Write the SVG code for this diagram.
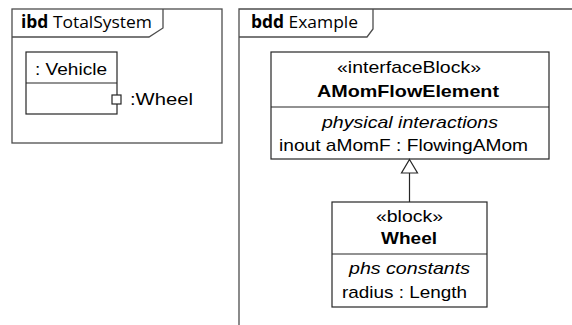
<svg xmlns="http://www.w3.org/2000/svg" width="572" height="325" viewBox="0 0 572 325">
<defs>
<style>
.frame{fill:none;stroke:#4d4d4d;stroke-width:1.3}
.box{fill:#fff;stroke:#262626;stroke-width:1.2}
.t{font-family:"Liberation Sans",Arial,sans-serif;font-size:17px;fill:#000}
.b{font-weight:bold}
.i{font-style:italic}
.ft{font-family:"Open Sans","Noto Sans",sans-serif;font-size:17px;fill:#000}
.conn{fill:none;stroke:#262626;stroke-width:1.2}
</style>
</defs>
<rect width="572" height="325" fill="#fff"/>
<g id="ibd-frame">
<rect class="frame" x="12" y="9" width="210" height="134"/>
<path class="frame" d="M12,37 H149 L163,28 V9"/>
<text class="ft" x="21" y="28" textLength="131" lengthAdjust="spacingAndGlyphs"><tspan font-weight="bold">ibd</tspan> TotalSystem</text>
</g>
<g id="vehicle">
<rect class="box" x="26" y="52" width="91" height="62"/>
<line class="box" x1="26" y1="83" x2="117" y2="83"/>
<text class="t" x="35" y="75" textLength="72" lengthAdjust="spacingAndGlyphs">: Vehicle</text>
</g>
<g id="wheel-port">
<rect class="box" x="112" y="95" width="9" height="9"/>
<text class="t" x="130" y="105" textLength="63" lengthAdjust="spacingAndGlyphs">:Wheel</text>
</g>
<g id="bdd-frame">
<path class="frame" d="M572,9 H239 V325"/>
<path class="frame" d="M239,37 H367 L373,29 V9"/>
<text class="ft" x="251" y="28" textLength="107" lengthAdjust="spacingAndGlyphs"><tspan font-weight="bold">bdd</tspan> Example</text>
</g>
<g id="AMomFlowElement">
<rect class="box" x="271" y="52" width="278" height="107"/>
<line class="box" x1="271" y1="107" x2="549" y2="107"/>
<text class="t" x="337" y="73" textLength="144" lengthAdjust="spacingAndGlyphs">«interfaceBlock»</text>
<text class="t b" x="317" y="97" textLength="182" lengthAdjust="spacingAndGlyphs">AMomFlowElement</text>
<text class="t i" x="322" y="128" textLength="176" lengthAdjust="spacingAndGlyphs">physical interactions</text>
<text class="t" x="279" y="151" textLength="249" lengthAdjust="spacingAndGlyphs">inout aMomF : FlowingAMom</text>
</g>
<g id="Wheel">
<rect class="box" x="332" y="202" width="155" height="105"/>
<line class="box" x1="332" y1="254" x2="487" y2="254"/>
<text class="t" x="376" y="222" textLength="67" lengthAdjust="spacingAndGlyphs">«block»</text>
<text class="t b" x="381" y="244" textLength="56" lengthAdjust="spacingAndGlyphs">Wheel</text>
<text class="t i" x="349" y="274" textLength="121" lengthAdjust="spacingAndGlyphs">phs constants</text>
<text class="t" x="342" y="298" textLength="125" lengthAdjust="spacingAndGlyphs">radius : Length</text>
</g>
<g id="connectors">
<line class="conn" x1="409.5" y1="202" x2="409.5" y2="173"/>
<polygon class="conn" points="409.5,159.5 417.5,173 401.5,173" style="fill:#fff"/>
</g>
</svg>
